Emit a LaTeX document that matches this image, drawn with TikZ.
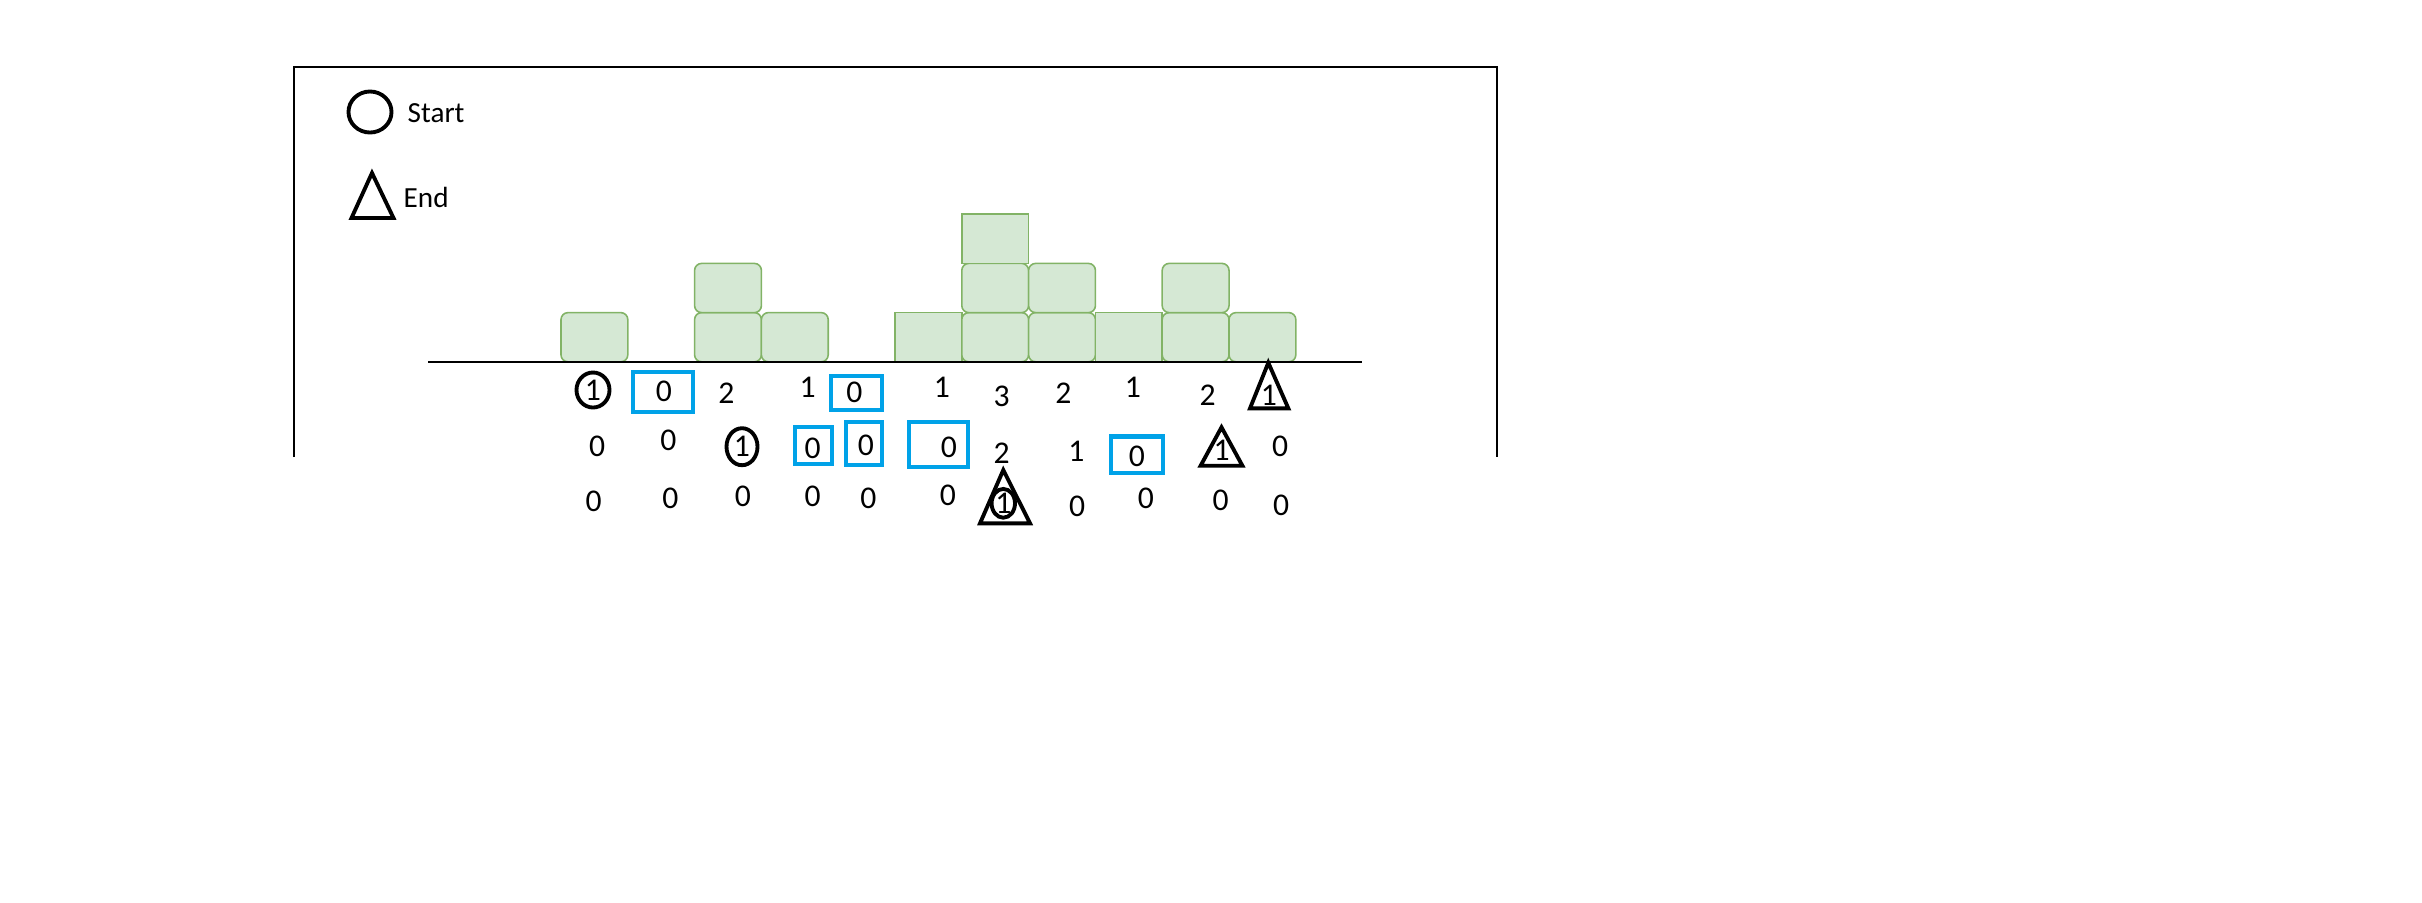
\documentclass[tikz,border=0pt]{standalone}
\usepackage{fontspec}
\setmainfont{Carlito}
\usetikzlibrary{shapes.geometric}
\definecolor{INK}{HTML}{000000}
\definecolor{BARFILL}{HTML}{D5E8D4}
\definecolor{BARLINE}{HTML}{82B366}
\definecolor{PICK}{HTML}{00A2E8}

\begin{document}
\begin{tikzpicture}[x=0.01cm,y=-0.01cm]
\tikzset{frameline/.style={INK,line width=0.4pt},groundline/.style={INK,line width=0.6pt},
 bar/.style={draw=BARLINE,fill=BARFILL,line width=0.45pt,rounded corners=2pt,minimum width=0.668cm,minimum height=0.492cm,inner sep=0pt},
 barsq/.style={bar,sharp corners},
 dig/.style={inner sep=0pt,font=\fontsize{9}{10}\selectfont,INK},
 ring/.style={ellipse,draw=INK,line width=1.1pt},
 tri/.style={INK,line width=1.1pt,line join=miter},
 selbox/.style={draw=PICK,line width=1.15pt,inner sep=0pt},
 lgd/.style={inner sep=0pt,anchor=west,font=\fontsize{8.3}{10}\selectfont}}
\useasboundingbox (0,0) rectangle (2422,902);
% frame and legend
\draw[frameline] (294,457) -- (294,67) -- (1497,67) -- (1497,457);
\node[ring,minimum width=0.43cm,minimum height=0.41cm,inner sep=0pt] (startmark) at (370,112) {};
\node[lgd] (startlbl) at (407,113) {Start};
\draw[tri] (372,173) -- (351.5,218) -- (393.5,218) -- cycle;
\node[lgd] (endlbl) at (403,197.5) {End};
% stacked bars
\foreach \c/\r/\s in {0/1/bar,2/1/bar,2/2/bar,3/1/bar,5/1/barsq,6/1/bar,6/2/bar,6/3/barsq,
 7/1/bar,7/2/bar,8/1/barsq,9/1/bar,9/2/bar,10/1/bar}
 \node[\s] (b\c-\r) at ({594.4+66.8*\c},{337.2-49.2*(\r-1)}) {};
\draw[groundline] (428,361.7) -- (1362,361.7);
% first row
\node[dig,ring,minimum width=0.33cm,minimum height=0.35cm] (p0) at (593,390) {1};
\node[selbox,minimum width=0.6cm,minimum height=0.4cm] (s1) at (663.3,391.7) {};
\node[dig] (p1) at (664,391) {0};
\node[dig] (p2) at (726.5,393) {2};
\node[dig] (p3) at (807.6,387) {1};
\node[selbox,minimum width=0.51cm,minimum height=0.34cm] (s2) at (856.6,393) {};
\node[dig] (p4) at (854.4,392) {0};
\node[dig] (p5) at (942,387) {1};
\node[dig] (p6) at (1001.6,396.7) {3};
\node[dig] (p7) at (1063.3,393) {2};
\node[dig] (p8) at (1133,387) {1};
\node[dig] (p9) at (1207.6,395) {2};
\node[dig] (p10) at (1268.8,395) {1};
\draw[tri] (1268.3,362.7) -- (1250,408.3) -- (1288.3,408.3) -- cycle;
% second row
\node[dig] (q0) at (597.2,446.7) {0};
\node[dig] (q1) at (668.3,440.7) {0};
\node[dig,ring,minimum width=0.31cm,minimum height=0.37cm] (q2) at (742,446.7) {1};
\node[selbox,minimum width=0.37cm,minimum height=0.37cm] (s3) at (813.3,445.3) {};
\node[dig] (q3) at (812.6,448.3) {0};
\node[selbox,minimum width=0.36cm,minimum height=0.43cm] (s4) at (864.1,443.7) {};
\node[dig] (q4) at (865.8,445) {0};
\node[selbox,minimum width=0.59cm,minimum height=0.45cm] (s5) at (938.4,444.8) {};
\node[dig] (q5) at (948.9,447.7) {0};
\node[dig] (q6) at (1001.6,453.3) {2};
\node[dig] (q7) at (1076.3,451.7) {1};
\node[selbox,minimum width=0.52cm,minimum height=0.36cm] (s6) at (1136.7,454.5) {};
\node[dig] (q8) at (1137,456.7) {0};
\node[dig] (q9) at (1221.5,450) {1};
\draw[tri] (1221.5,427.3) -- (1200.6,465.7) -- (1242.4,465.7) -- cycle;
\node[dig] (q10) at (1280,446.7) {0};
% third row
\node[dig] (t0) at (593.7,501.7) {0};
\node[dig] (t1) at (670.3,498.3) {0};
\node[dig] (t2) at (743,496.7) {0};
\node[dig] (t3) at (812.6,496.7) {0};
\node[dig] (t4) at (868.3,498.3) {0};
\node[dig] (t5) at (948,495) {0};
\node[dig,ring,minimum width=0.234cm,minimum height=0.234cm] (t6) at (1003.3,503.3) {1};
\draw[tri] (1003.3,470) -- (980,523.3) -- (1030,523.3) -- cycle;
\node[dig] (t7) at (1077.2,506.7) {0};
\node[dig] (t8) at (1145.9,498.3) {0};
\node[dig] (t9) at (1220.5,500) {0};
\node[dig] (t10) at (1281.2,505) {0};
\end{tikzpicture}
\end{document}
